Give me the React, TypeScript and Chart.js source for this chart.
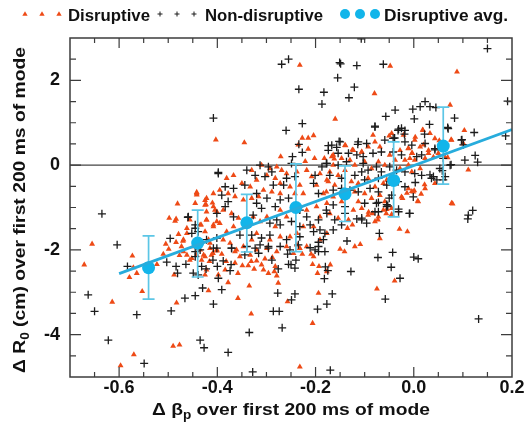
import React, { useEffect, useRef } from 'react';
import { Chart, registerables } from 'chart.js';
Chart.register(...registerables);

// ---- axis ticks ----
const xTickValues = [-0.6, -0.4, -0.2, 0.0, 0.2];
const yTickValues = [-4, -2, 0, 2];

// ---- disruptive averages with error bars ----
const avgX = [-0.54, -0.44, -0.34, -0.24, -0.14, -0.041, 0.06];
const avgY = [-2.42, -1.84, -1.36, -1.0, -0.68, -0.36, 0.45];
const avgLow = [-3.16, -2.64, -2.05, -2.04, -1.33, -1.22, -0.45];
const avgHigh = [-1.67, -1.06, -0.69, 0.03, -0.02, 0.55, 1.37];

// ---- linear fit ----
const fitX = [-0.6, 0.2];
const fitY = [-2.56, 0.84];

// ---- disruptive shots (Δβp, ΔR0) ----
const disruptive: number[][] = [
  [-0.403,0.60],[-0.442,-0.64],[-0.442,-0.70],[-0.425,-0.83],[-0.423,-0.93],[-0.410,-0.89],[-0.481,-0.91],
  [-0.232,2.36],[-0.160,1.09],[-0.345,0.53],[-0.227,0.64],[-0.215,0.64],[-0.204,0.70],[-0.235,0.48],[-0.215,0.38],
  [-0.202,0.16],[-0.271,0.20],[-0.139,0.46],[-0.125,0.36],[-0.106,0.31],[-0.182,0.16],[-0.164,0.24],[-0.162,0.15],[-0.221,0.09],
  [-0.048,2.34],[0.088,2.20],[-0.080,1.69],[0.074,1.42],[0.103,0.82],[-0.050,0.69],[0.003,0.66],[0.018,0.83],[0.052,0.58],
  [0.076,0.60],[0.069,0.18],[0.111,-0.11],[0.079,-0.91],[0.008,-0.85],[-0.004,-0.62],[0.001,-0.60],[-0.014,-0.66],[-0.023,-0.78],
  [0.015,-0.68],[0.022,-0.46],[-0.011,0.40],[-0.004,0.28],[-0.008,0.16],[0.020,0.48],[0.030,0.28],[0.040,0.19],
  [-0.092,-1.11],[-0.084,-1.14],[-0.073,-1.29],[-0.072,-1.22],[-0.056,-1.14],[-0.055,-1.04],[-0.045,-1.16],[-0.029,-1.51],
  [-0.013,-1.57],[-0.069,-1.73],[-0.039,-2.73],[-0.075,-2.92],
  [-0.655,-1.86],[-0.671,-2.35],[-0.614,-3.23],[-0.553,-2.98],[-0.573,-2.14],[-0.571,-2.42],[-0.579,-2.65],[-0.564,-2.55],
  [-0.523,-2.34],[-0.510,-2.10],[-0.505,-1.86],[-0.499,-1.98],[-0.498,-1.25],[-0.486,-1.32],[-0.484,-1.27],[-0.479,-1.63],
  [-0.462,-1.49],[-0.484,-1.82],[-0.470,-1.79],[-0.469,-2.04],[-0.477,-2.13],[-0.488,-2.59],[-0.456,-2.24],[-0.483,-3.25],
  [-0.570,-4.47],[-0.597,-4.73],[-0.490,-4.27],[-0.477,-4.24],[-0.418,-2.96],[-0.425,-2.59],[-0.422,-2.47],[-0.452,-2.20],
  [-0.442,-2.12],[-0.432,-2.24],[-0.428,-2.12],[-0.433,-1.41],[-0.422,-1.29],[-0.425,-1.57],[-0.418,-1.76],[-0.408,-1.41],
  [-0.401,-1.33],[-0.415,-1.96],[-0.409,-2.08],[-0.401,-2.02],[-0.416,-2.27],[-0.401,-1.10],[-0.422,-1.10],[-0.405,-1.06],
  [-0.331,-3.51],[-0.206,-3.73],[-0.194,-3.02],[-0.257,-3.22],[-0.358,-3.14],[-0.335,-2.85],[-0.276,-2.78],[-0.177,-2.51],
  [-0.170,-2.35],[-0.193,-2.39],[-0.196,-2.55],[-0.206,-2.34],[-0.279,-2.61],[-0.284,-2.51],[-0.296,-2.55],[-0.306,-2.47],
  [-0.282,-2.39],[-0.378,-2.77],[-0.398,-2.59],[-0.384,-2.47],[-0.358,-2.55],[-0.349,-2.37],[-0.337,-2.37],[-0.325,-2.45],
  [-0.331,-2.27],[-0.320,-2.26],[-0.364,-2.04],[-0.382,-2.27],[-0.364,-2.31],[-0.391,-2.10],[-0.288,-2.18],[-0.303,-2.21],
  [-0.310,-2.35],[-0.227,-2.10],[-0.209,-2.10],[-0.232,-1.96],[-0.150,-1.98],[-0.141,-2.04],[-0.120,-1.92],[-0.109,-1.87],
  [-0.135,-1.49],[-0.125,-1.41],[-0.232,-4.76],
  [-0.310,0.00],[-0.293,-0.08],[-0.279,-0.04],[-0.269,-0.12],[-0.330,-0.12],[-0.381,-0.31],[-0.367,-0.24],[-0.350,-0.43],
  [-0.333,-0.51],[-0.320,-0.35],[-0.299,-0.24],[-0.282,-0.31],[-0.272,-0.43],[-0.259,-0.20],[-0.238,-0.16],[-0.218,-0.12],
  [-0.208,-0.27],[-0.191,-0.20],[-0.177,-0.35],[-0.252,-0.51],[-0.232,-0.47],[-0.198,-0.47],[-0.184,-0.67],[-0.225,-0.67],
  [-0.242,-0.67],[-0.272,-0.67],[-0.289,-0.63],[-0.306,-0.59],[-0.316,-0.74],[-0.330,-0.78],[-0.347,-0.82],[-0.364,-0.74],
  [-0.378,-0.67],[-0.395,-0.59],[-0.408,-0.67],[-0.422,-0.78],[-0.442,-0.67],[-0.445,-0.90],[-0.425,-0.94],[-0.408,-0.98],
  [-0.388,-1.06],[-0.371,-1.14],[-0.357,-1.25],[-0.327,-1.22],[-0.313,-1.33],[-0.299,-1.22],[-0.282,-1.45],[-0.272,-1.06],
  [-0.259,-1.22],[-0.218,-1.06],[-0.198,-0.98],[-0.177,-0.90],[-0.204,-1.45],[-0.191,-1.22],[-0.225,-1.45],[-0.238,-1.61],
  [-0.252,-1.69],[-0.272,-1.69],[-0.293,-1.76],[-0.320,-1.61],[-0.330,-1.76],[-0.367,-1.45],[-0.381,-1.57],[-0.395,-1.37],
  [-0.408,-1.45],[-0.422,-1.29],[-0.435,-1.41],[-0.456,-1.29],[-0.462,-1.61],[-0.469,-1.76],[-0.473,-1.92],[-0.449,-1.92],
  [-0.435,-2.00],[-0.415,-1.84],[-0.401,-2.00],[-0.388,-1.76],[-0.374,-1.84],[-0.361,-2.00],[-0.347,-1.92],[-0.320,-2.00],
  [-0.299,-1.96],[-0.279,-2.04],[-0.259,-1.92],[-0.245,-2.08],[-0.218,-1.92],[-0.191,-1.76],[-0.177,-1.61],[-0.204,-2.16],
  [-0.238,-1.88],[-0.462,-2.12],[-0.425,-2.16],[-0.412,-2.12],[-0.354,-2.16],[-0.333,-2.12],
  [-0.083,0.71],[-0.045,0.75],[-0.079,0.55],[-0.021,0.71],[0.019,0.82],[0.033,0.75],[0.043,0.63],[0.002,0.59],
  [0.077,0.59],[0.101,0.51],[-0.140,0.47],[-0.123,0.35],[-0.106,0.31],[-0.093,0.43],[-0.069,0.43],[-0.049,0.24],
  [-0.028,0.35],[-0.011,0.39],[-0.003,0.28],[0.013,0.43],[0.030,0.35],[0.050,0.28],[0.063,0.20],[-0.167,0.20],
  [-0.147,0.16],[-0.130,0.12],[-0.164,0.00],[-0.171,-0.16],[-0.154,-0.24],[-0.140,-0.12],[-0.120,0.00],[-0.100,0.08],
  [-0.086,-0.08],[-0.072,0.08],[-0.059,0.00],[-0.038,0.12],[-0.018,0.12],[0.002,0.12],[0.023,0.16],[-0.028,-0.08],
  [-0.011,0.00],[0.013,-0.08],[-0.174,-0.39],[-0.161,-0.47],[-0.127,-0.39],[-0.113,-0.43],[-0.093,-0.31],[-0.079,-0.51],
  [-0.062,-0.43],[-0.055,-0.35],[-0.004,-0.16],[-0.178,-0.63],[-0.164,-0.75],[-0.147,-0.86],[-0.120,-0.63],[-0.100,-0.67],
  [-0.113,-0.86],[-0.086,-0.78],[-0.069,-0.71],[-0.059,-0.86],[-0.025,-0.75],[-0.011,-0.55],[-0.001,-0.63],[0.009,-0.86],
  [0.023,-0.55],[0.043,-0.43],[-0.123,-1.06],[-0.106,-1.02],[-0.093,-1.18],[-0.062,-1.06],[-0.045,-1.02],[-0.171,-1.14],
  [-0.154,-1.25],[-0.133,-1.29],[0.077,-0.90],[-0.079,-1.33],
];

// ---- non-disruptive shots (Δβp, ΔR0) ----
const nonDisruptive: number[][] = [
  [-0.408,1.11],[-0.398,-0.17],
  [-0.269,2.38],[-0.255,2.50],[-0.151,2.42],[-0.149,2.39],[-0.116,2.35],[-0.155,2.06],[-0.234,1.79],[-0.183,1.72],
  [-0.121,1.84],[-0.132,1.59],[-0.187,1.44],[-0.227,0.98],[-0.260,0.82],[-0.234,0.49],[-0.227,0.30],[-0.247,0.20],
  [-0.152,0.56],[-0.174,0.46],[-0.157,0.42],[-0.114,0.49],
  [-0.062,2.38],[0.150,2.75],[0.191,1.51],[0.023,1.50],[0.013,1.38],[0.033,1.38],[0.045,1.36],[-0.002,1.32],
  [-0.038,1.30],[-0.057,1.15],[0.001,1.09],[0.083,1.11],[0.032,0.96],[0.069,0.89],[0.123,0.77],[-0.079,0.92],
  [-0.031,0.85],[-0.025,0.87],[-0.019,0.73],[-0.039,0.64],[0.022,0.73],[0.098,0.60],[0.101,0.48],[0.187,0.69],
  [0.125,0.23],[0.130,0.07],[0.064,-0.27],[0.058,-0.13],[0.076,0.01],[0.040,-0.27],[0.047,-0.35],[0.033,-0.23],
  [-0.072,-0.88],[-0.055,-0.93],[-0.050,-0.78],[0.003,-0.41],[0.043,0.36],[0.057,0.48],[-0.107,2.98],
  [-0.072,-1.10],[-0.053,-0.96],[-0.031,-1.04],[-0.031,-1.10],[-0.009,-1.14],[-0.070,-1.61],[-0.073,-2.18],[-0.043,-2.06],
  [-0.046,-2.41],[0.000,-2.17],[0.009,-2.21],[-0.028,-2.67],[-0.058,-3.16],[0.132,-3.63],[0.120,-1.07],[0.110,-1.27],
  [-0.635,-1.15],[-0.604,-1.88],[-0.663,-3.06],[-0.650,-3.45],[-0.564,-3.53],[-0.583,-2.39],[-0.503,-2.29],[-0.496,-1.73],
  [-0.460,-1.23],[-0.484,-2.39],[-0.481,-2.55],[-0.464,-2.34],[-0.466,-3.14],[-0.445,-3.08],[-0.494,-3.44],[-0.549,-4.68],
  [-0.622,-4.13],[-0.435,-4.13],[-0.427,-4.31],[-0.430,-2.90],[-0.408,-3.28],[-0.449,-2.55],[-0.439,-2.59],[-0.445,-2.04],
  [-0.432,-2.39],[-0.423,-2.45],[-0.409,-2.24],[-0.400,-2.39],[-0.398,-2.67],[-0.445,-1.49],[-0.439,-1.57],
  [-0.378,-4.42],[-0.335,-3.95],[-0.286,-3.45],[-0.274,-3.45],[-0.268,-3.84],[-0.196,-3.40],[-0.177,-3.28],[-0.166,-3.04],
  [-0.242,-3.04],[-0.249,-3.18],[-0.391,-2.94],[-0.277,-3.02],[-0.128,-2.51],[-0.182,-2.68],[-0.175,-2.49],[-0.180,-2.40],
  [-0.255,-2.34],[-0.242,-2.43],[-0.276,-2.45],[-0.374,-2.49],[-0.372,-2.35],[-0.388,-2.26],[-0.401,-1.96],[-0.371,-1.96],
  [-0.344,-2.12],[-0.323,-1.96],[-0.316,-2.08],[-0.296,-1.92],[-0.289,-2.24],[-0.257,-2.10],[-0.250,-2.35],[-0.240,-2.24],
  [-0.211,-1.95],[-0.194,-1.82],[-0.194,-1.92],[-0.194,-2.04],[-0.136,-1.79],[-0.116,-1.27],[-0.106,-1.25],[-0.096,-1.37],
  [-0.181,-1.61],[-0.164,-1.53],[-0.147,-1.41],[-0.328,-4.88],[-0.170,-4.84],
  [-0.313,0.00],[-0.296,-0.04],[-0.249,0.04],[-0.201,-0.24],[-0.187,-0.04],[-0.177,0.04],[-0.398,-0.20],[-0.340,-0.12],
  [-0.323,-0.24],[-0.303,-0.27],[-0.289,-0.16],[-0.259,-0.31],[-0.242,-0.27],[-0.384,-0.51],[-0.367,-0.55],[-0.391,-0.71],
  [-0.344,-0.47],[-0.320,-0.67],[-0.286,-0.47],[-0.265,-0.47],[-0.204,-0.43],[-0.194,-0.67],[-0.272,-0.82],[-0.255,-0.78],
  [-0.299,-0.78],[-0.378,-0.86],[-0.384,-0.98],[-0.320,-0.90],[-0.310,-1.02],[-0.282,-0.98],[-0.232,-1.06],[-0.218,-1.22],
  [-0.194,-1.29],[-0.177,-1.14],[-0.459,-1.22],[-0.445,-1.41],[-0.401,-1.14],[-0.367,-1.22],[-0.327,-1.18],[-0.293,-1.37],
  [-0.279,-1.29],[-0.272,-1.41],[-0.249,-1.33],[-0.232,-1.45],[-0.211,-1.41],[-0.191,-1.53],[-0.452,-1.61],[-0.422,-1.76],
  [-0.401,-1.72],[-0.354,-1.65],[-0.330,-1.65],[-0.310,-1.72],[-0.293,-1.65],[-0.259,-1.76],[-0.232,-1.69],[-0.204,-1.57],
  [-0.184,-1.76],[-0.435,-2.00],[-0.408,-1.96],[-0.371,-1.96],[-0.340,-1.92],[-0.313,-1.88],[-0.296,-1.96],[-0.272,-1.92],
  [-0.252,-2.00],[-0.235,-1.88],[-0.201,-2.00],[-0.181,-2.04],[-0.445,-2.16],
  [-0.079,0.90],[-0.032,0.82],[-0.018,0.82],[0.070,0.86],[-0.150,0.55],[-0.167,0.47],[-0.113,0.55],[-0.096,0.51],
  [-0.059,0.59],[-0.042,0.63],[-0.018,0.55],[-0.004,0.47],[0.023,0.51],[-0.174,0.35],[-0.154,0.28],[-0.133,0.28],
  [-0.116,0.24],[-0.103,0.20],[-0.083,0.28],[-0.066,0.31],[-0.042,0.31],[-0.025,0.24],[0.006,0.20],[0.016,0.24],
  [0.043,0.39],[0.060,0.16],[0.097,0.59],[0.104,0.12],[-0.178,0.04],[-0.154,0.00],[-0.137,0.08],[-0.103,0.04],
  [-0.093,-0.12],[-0.076,-0.04],[-0.066,-0.16],[-0.049,-0.04],[-0.035,-0.12],[-0.018,-0.16],[0.002,-0.20],[0.016,-0.24],
  [0.036,-0.31],[0.053,-0.08],[0.074,0.00],[0.060,-0.35],[-0.171,-0.24],[-0.147,-0.31],[-0.120,-0.24],[-0.106,-0.16],
  [-0.100,-0.35],[-0.072,-0.31],[-0.055,-0.47],[-0.032,-0.39],[-0.018,-0.51],[-0.164,-0.59],[-0.147,-0.55],[-0.130,-0.59],
  [-0.113,-0.63],[-0.089,-0.55],[-0.072,-0.63],[-0.045,-0.71],[-0.001,-0.75],[-0.164,-0.94],[-0.140,-0.98],[-0.100,-0.90],
  [-0.076,-0.90],[-0.055,-0.98],[-0.079,-1.10],[-0.008,-1.14],[-0.140,-1.14],[-0.106,-1.29],[-0.161,-1.29],[-0.178,-1.06],
  [0.111,-1.18],
];

const RED = '#ee4a16';
const BLACK = '#1c1c1c';
const CYAN = '#12b5ea';
const LINE_CYAN = '#27acdc';
const ERR_CYAN = '#5cc6e6';
const FRAME = '#3c3c3c';
const FONT = '"Liberation Sans", Arial, Helvetica, sans-serif';

const drawTriangle = (ctx: CanvasRenderingContext2D, x: number, y: number, r: number) => {
  ctx.beginPath();
  ctx.moveTo(x, y - r);
  ctx.lineTo(x + r * 0.95, y + r * 0.6);
  ctx.lineTo(x - r * 0.95, y + r * 0.6);
  ctx.closePath();
  ctx.fill();
};

// draws text with a horizontal stretch so that it fills the target width
const drawStretched = (
  ctx: CanvasRenderingContext2D,
  parts: { text: string; font: string; dy: number }[],
  cx: number,
  baseline: number,
  targetWidth: number,
) => {
  const widths = parts.map((p) => { ctx.font = p.font; return ctx.measureText(p.text).width; });
  const total = widths.reduce((s, w) => s + w, 0);
  const sx = targetWidth / total;
  ctx.save();
  ctx.translate(cx - targetWidth / 2, baseline);
  ctx.scale(sx, 1);
  ctx.textAlign = 'left';
  ctx.textBaseline = 'alphabetic';
  let x = 0;
  parts.forEach((p, i) => {
    ctx.font = p.font;
    ctx.fillText(p.text, x, p.dy);
    x += widths[i];
  });
  ctx.restore();
};

const decorPlugin = {
  id: 'decor',
  beforeDatasetsDraw(chart: any) {
    const { ctx, chartArea: a } = chart;
    const y0 = chart.scales.y.getPixelForValue(0);
    ctx.save();
    ctx.strokeStyle = '#444';
    ctx.lineWidth = 1.4;
    ctx.beginPath();
    ctx.moveTo(a.left, y0);
    ctx.lineTo(a.right, y0);
    ctx.stroke();
    ctx.restore();
  },
  beforeDatasetDraw(chart: any, args: any) {
    if (args.index !== 1) return;
    const { ctx } = chart;
    const xs = chart.scales.x;
    const ys = chart.scales.y;
    ctx.save();
    ctx.strokeStyle = ERR_CYAN;
    ctx.lineWidth = 1.7;
    avgX.forEach((v, i) => {
      const px = xs.getPixelForValue(v);
      const lo = ys.getPixelForValue(avgLow[i]);
      const hi = ys.getPixelForValue(avgHigh[i]);
      ctx.beginPath();
      ctx.moveTo(px, lo); ctx.lineTo(px, hi);
      ctx.moveTo(px - 6, lo); ctx.lineTo(px + 6, lo);
      ctx.moveTo(px - 6, hi); ctx.lineTo(px + 6, hi);
      ctx.stroke();
    });
    ctx.restore();
  },
  afterDraw(chart: any) {
    const { ctx, chartArea: a } = chart;
    const xs = chart.scales.x;
    const ys = chart.scales.y;
    ctx.save();
    // frame
    ctx.strokeStyle = FRAME;
    ctx.lineWidth = 1.5;
    ctx.strokeRect(a.left, a.top, a.right - a.left, a.bottom - a.top);
    // ticks
    ctx.lineWidth = 1.2;
    ctx.beginPath();
    for (let k = -13; k <= 3; k++) {
      const px = xs.getPixelForValue(k * 0.05);
      const len = k % 4 === 0 ? 10 : 5;
      ctx.moveTo(px, a.bottom); ctx.lineTo(px, a.bottom - len);
      ctx.moveTo(px, a.top); ctx.lineTo(px, a.top + len);
    }
    for (let k = -9; k <= 5; k++) {
      const py = ys.getPixelForValue(k * 0.5);
      const len = k % 4 === 0 ? 11 : 6;
      ctx.moveTo(a.left, py); ctx.lineTo(a.left + len, py);
      ctx.moveTo(a.right, py); ctx.lineTo(a.right - len, py);
    }
    ctx.stroke();

    // axis titles
    ctx.fillStyle = '#111';
    const big = `bold 17px ${FONT}`;
    const small = `bold 12px ${FONT}`;
    drawStretched(ctx, [
      { text: '\u0394 \u03b2', font: big, dy: 0 },
      { text: 'p', font: small, dy: 4 },
      { text: ' over first 200 ms of mode', font: big, dy: 0 },
    ], 291, 415, 278);
    ctx.save();
    ctx.translate(25, 210);
    ctx.rotate(-Math.PI / 2);
    drawStretched(ctx, [
      { text: '\u0394 R', font: big, dy: 0 },
      { text: '0', font: small, dy: 4 },
      { text: ' (cm) over first 200 ms of mode', font: big, dy: 0 },
    ], 0, 0, 326);
    ctx.restore();

    // legend
    const ly = 14;
    const lf = `bold 16px ${FONT}`;
    ctx.fillStyle = RED;
    [25, 42, 59].forEach((x) => drawTriangle(ctx, x, ly, 2.8));
    ctx.fillStyle = '#111';
    drawStretched(ctx, [{ text: 'Disruptive', font: lf, dy: 0 }], 68 + 41, 21, 82);
    ctx.strokeStyle = BLACK;
    ctx.lineWidth = 1;
    ctx.beginPath();
    [160, 177, 194].forEach((x) => {
      ctx.moveTo(x - 2.5, ly); ctx.lineTo(x + 2.5, ly);
      ctx.moveTo(x, ly - 2.5); ctx.lineTo(x, ly + 2.5);
    });
    ctx.stroke();
    drawStretched(ctx, [{ text: 'Non-disruptive', font: lf, dy: 0 }], 205 + 59, 21, 118);
    ctx.fillStyle = CYAN;
    [345, 360, 375].forEach((x) => {
      ctx.beginPath();
      ctx.arc(x, ly, 5, 0, Math.PI * 2);
      ctx.fill();
    });
    ctx.fillStyle = '#111';
    drawStretched(ctx, [{ text: 'Disruptive avg.', font: lf, dy: 0 }], 384 + 62, 21, 124);
    ctx.restore();
  },
};

export default function App() {
  const canvasRef = useRef<HTMLCanvasElement | null>(null);

  useEffect(() => {
    if (!canvasRef.current) return;
    const tickFont = { family: FONT, size: 18, weight: 'bold' as const };
    const chart = new Chart(canvasRef.current, {
      type: 'scatter',
      data: {
        datasets: [
          {
            label: 'Fit',
            data: fitX.map((x, i) => ({ x, y: fitY[i] })),
            showLine: true,
            borderColor: LINE_CYAN,
            borderWidth: 2.8,
            pointRadius: 0,
            order: 0,
          },
          {
            label: 'Disruptive avg.',
            data: avgX.map((x, i) => ({ x, y: avgY[i] })),
            pointStyle: 'circle',
            pointRadius: 6.5,
            backgroundColor: CYAN,
            borderWidth: 0,
            order: 1,
          },
          {
            label: 'Non-disruptive',
            data: nonDisruptive.map(([x, y]) => ({ x, y })),
            pointStyle: 'cross',
            pointRadius: 4,
            borderColor: BLACK,
            borderWidth: 1.3,
            order: 2,
          },
          {
            label: 'Disruptive',
            data: disruptive.map(([x, y]) => ({ x, y })),
            pointStyle: 'triangle',
            pointRadius: 3.4,
            backgroundColor: RED,
            borderColor: RED,
            borderWidth: 0,
            order: 3,
          },
        ],
      },
      options: {
        animation: false,
        responsive: true,
        maintainAspectRatio: false,
        layout: { padding: { top: 38, right: 15, left: 0, bottom: 0 } },
        plugins: { legend: { display: false }, tooltip: { enabled: false } },
        scales: {
          x: {
            type: 'linear',
            min: -0.7,
            max: 0.2,
            afterBuildTicks: (s: any) => { s.ticks = xTickValues.map((v) => ({ value: v })); },
            afterFit: (s: any) => { s.height = 54; },
            grid: { display: false, drawTicks: false },
            border: { display: false },
            ticks: {
              font: tickFont,
              color: '#111',
              padding: 0,
              maxRotation: 0,
              autoSkip: false,
              callback: (v: any) => Number(v).toFixed(1),
            },
          },
          y: {
            type: 'linear',
            min: -5,
            max: 3,
            afterBuildTicks: (s: any) => { s.ticks = yTickValues.map((v) => ({ value: v })); },
            afterFit: (s: any) => { s.width = 70; },
            grid: { display: false, drawTicks: false },
            border: { display: false },
            ticks: {
              font: tickFont,
              color: '#111',
              padding: 10,
              autoSkip: false,
              callback: (v: any) => String(v),
            },
          },
        },
      },
      plugins: [decorPlugin],
    });
    return () => chart.destroy();
  }, []);

  return (
    <div style={{ position: 'absolute', left: 0, top: 0, width: 527, height: 431 }}>
      <canvas ref={canvasRef} />
    </div>
  );
}
